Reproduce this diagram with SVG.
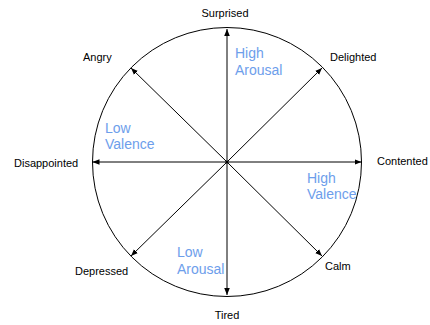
<svg xmlns="http://www.w3.org/2000/svg" width="430" height="325" viewBox="0 0 430 325">
<style>
.lbl{font-family:"Liberation Sans",Arial,sans-serif;font-size:11px;fill:#000}
.q{font-family:"Liberation Sans",Arial,sans-serif;font-size:14px;fill:#6d9eeb}
.ax{stroke:#000;stroke-width:1;fill:none;marker-end:url(#ah)}
</style>
<defs>
<marker id="ah" viewBox="0 0 10 10" refX="10" refY="5" markerWidth="7" markerHeight="7" markerUnits="userSpaceOnUse" orient="auto">
<path d="M0,1 L10,5 L0,9 Z" fill="#000"/>
</marker>
</defs>
<circle cx="227" cy="162" r="134.5" fill="none" stroke="#000" stroke-width="1"/>
<g id="connectors">
<line class="ax" x1="227" y1="162" x2="227" y2="29"/>
<line class="ax" x1="227" y1="162" x2="227" y2="295"/>
<line class="ax" x1="227" y1="162" x2="92.5" y2="162"/>
<line class="ax" x1="227" y1="162" x2="361.5" y2="162"/>
<line class="ax" x1="227" y1="162" x2="131" y2="68"/>
<line class="ax" x1="227" y1="162" x2="322" y2="68"/>
<line class="ax" x1="227" y1="162" x2="131" y2="256"/>
<line class="ax" x1="227" y1="162" x2="322" y2="256"/>
<circle cx="227" cy="162" r="1.6" fill="#000"/>
</g>
<g id="surprised"><text class="lbl" x="225" y="17" text-anchor="middle">Surprised</text></g>
<g id="angry"><text class="lbl" x="83" y="61">Angry</text></g>
<g id="delighted"><text class="lbl" x="330" y="61">Delighted</text></g>
<g id="disappointed"><text class="lbl" x="14" y="167">Disappointed</text></g>
<g id="contented"><text class="lbl" x="377" y="165">Contented</text></g>
<g id="depressed"><text class="lbl" x="75" y="275">Depressed</text></g>
<g id="calm"><text class="lbl" x="325" y="270">Calm</text></g>
<g id="tired"><text class="lbl" x="227" y="319" text-anchor="middle">Tired</text></g>
<g id="high-arousal"><text class="q" x="235" y="58">High</text><text class="q" x="235" y="75">Arousal</text></g>
<g id="low-valence"><text class="q" x="105" y="133">Low</text><text class="q" x="105" y="149">Valence</text></g>
<g id="high-valence"><text class="q" x="307" y="183">High</text><text class="q" x="307" y="199">Valence</text></g>
<g id="low-arousal"><text class="q" x="177" y="257">Low</text><text class="q" x="177" y="274">Arousal</text></g>
</svg>
